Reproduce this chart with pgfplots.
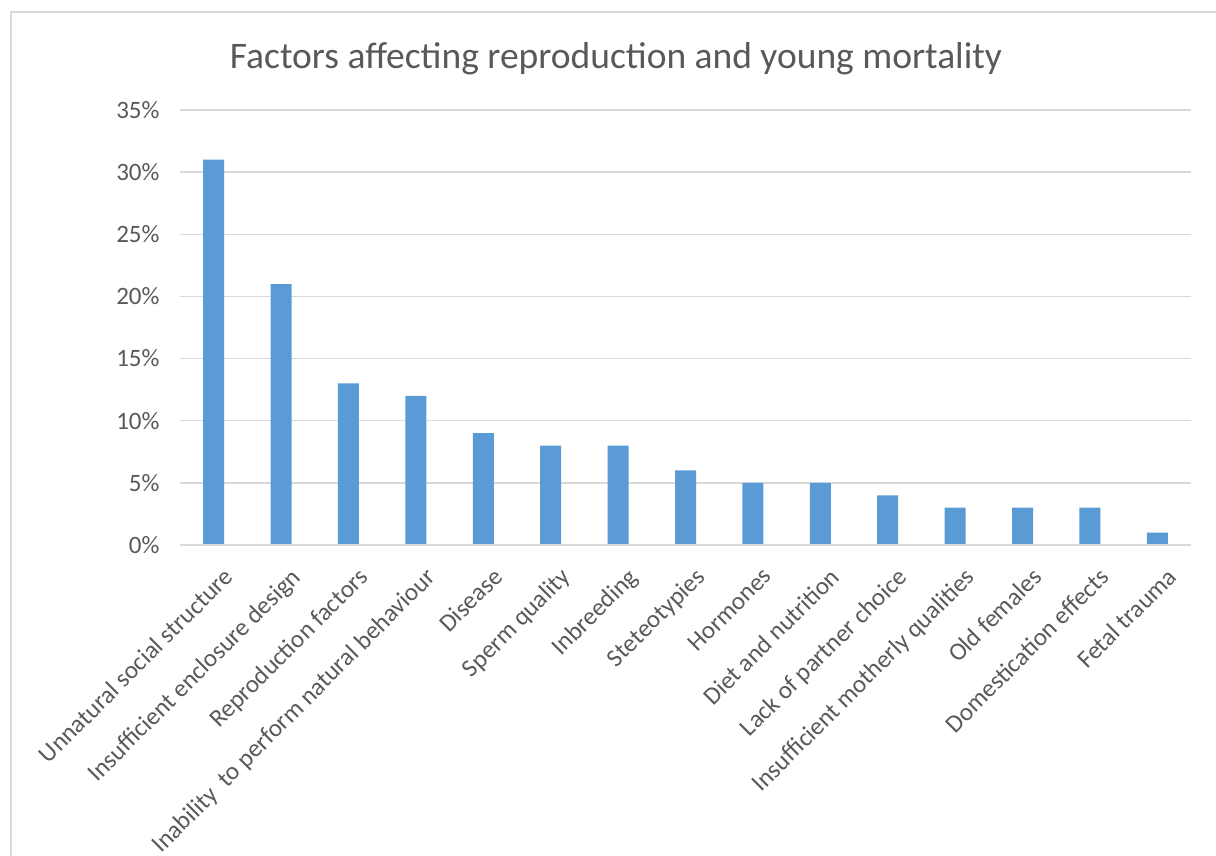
\documentclass[border=0pt]{standalone}
\usepackage{pgfplots}
\pgfplotsset{compat=1.18}
\usepackage{fontspec}
\setmainfont{Carlito}
\definecolor{barblue}{HTML}{5B9BD5}
\definecolor{gridgray}{HTML}{D9D9D9}
\definecolor{txtgray}{HTML}{595959}
\begin{document}
\begin{tikzpicture}[x=1pt,y=1pt]
\path[use as bounding box] (-180,-311) rectangle (1036,545);
\draw[gridgray, line width=1.5pt] (-169,-320) -- (-169,533) -- (1045,533);
\begin{axis}[
  at={(0,0)}, anchor=south west,
  scale only axis, width=1011pt, height=435pt,
  ymin=0, ymax=35, ytick={0,5,...,35},
  xmin=-0.5, xmax=14.5,
  xtick={0,...,14},
  xticklabels={Unnatural social structure, Insufficient enclosure design, Reproduction factors, Inability\ \ to perform natural behaviour, Disease, Sperm quality, Inbreeding, Steteotypies, Hormones, Diet and nutrition, Lack of partner choice, Insufficient motherly qualities, Old females, Domestication effects, Fetal trauma},
  xticklabel style={rotate=45, anchor=north east, font=\fontsize{25}{30}\selectfont, text=txtgray, inner sep=0pt, yshift=-21pt, xshift=-9pt},
  yticklabel={\pgfmathprintnumber{\tick}\%},
  /pgf/number format/assume math mode=true,
  yticklabel style={font=\fontsize{25}{30}\selectfont, text=txtgray, xshift=-17pt},
  major tick length=0pt,
  ymajorgrids, grid style={gridgray, line width=1.5pt},
  axis line style={draw=none},
  ybar, bar width=21pt,
]
\addplot[fill=barblue, draw=none] coordinates {
(0,31) (1,21) (2,13) (3,12) (4,9) (5,8) (6,8) (7,6) (8,5) (9,5) (10,4) (11,3) (12,3) (13,3) (14,1)
};
\draw[gridgray, line width=1.5pt] (rel axis cs:0,0) -- (rel axis cs:1,0);
\end{axis}
\node[text=txtgray, font=\fontsize{37.5}{44}\selectfont] at (436,486) {Factors affecting reproduction and young mortality};
\end{tikzpicture}
\end{document}
